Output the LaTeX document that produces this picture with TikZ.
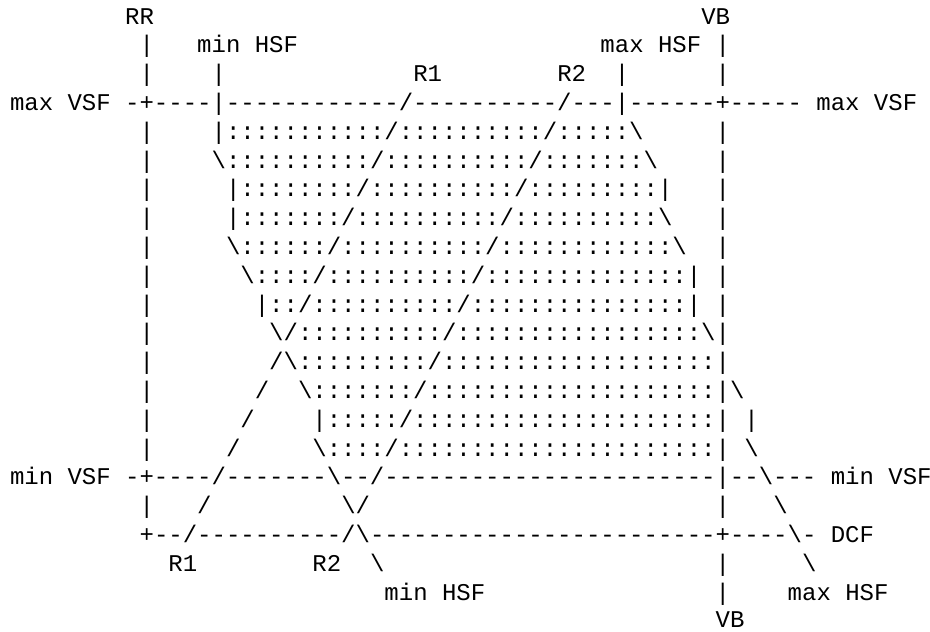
\documentclass[tikz,border=0pt]{standalone}
\usepackage{fontspec}
\setmonofont{Liberation Mono}
\ExplSyntaxOn
\cs_new:Npn \Rp #1#2 { \prg_replicate:nn {#1} {#2} }
\ExplSyntaxOff
\newcommand\bsl{\textbackslash}
\tikzset{ascii/.style={anchor=base west, inner sep=0pt, outer sep=0pt, text=black,
  font=\ttfamily\fontsize{24pt}{28.8pt}\selectfont}}
\begin{document}
\begin{tikzpicture}[x=1pt,y=1pt]
\useasboundingbox (0,0) rectangle (930,-632);
\node[ascii] (l1) at (10,-24.0) {\Rp{8}{~}RR\Rp{38}{~}VB};
\node[ascii] (l2) at (10,-52.8) {\Rp{9}{~}|\Rp{3}{~}min~HSF\Rp{21}{~}max~HSF~|};
\node[ascii] (l3) at (10,-81.6) {\Rp{9}{~}|\Rp{4}{~}|\Rp{13}{~}R1\Rp{8}{~}R2~~|\Rp{6}{~}|};
\node[ascii] (l4) at (10,-110.4) {max~VSF~-+\Rp{4}{-}|\Rp{12}{-}/\Rp{10}{-}/\Rp{3}{-}|\Rp{6}{-}+\Rp{5}{-}~max~VSF};
\node[ascii] (l5) at (10,-139.2) {\Rp{9}{~}|\Rp{4}{~}|\Rp{11}{:}/\Rp{10}{:}/\Rp{5}{:}\bsl\Rp{5}{~}|};
\node[ascii] (l6) at (10,-168.0) {\Rp{9}{~}|\Rp{4}{~}\bsl\Rp{10}{:}/\Rp{10}{:}/\Rp{7}{:}\bsl\Rp{4}{~}|};
\node[ascii] (l7) at (10,-196.8) {\Rp{9}{~}|\Rp{5}{~}|\Rp{8}{:}/\Rp{10}{:}/\Rp{9}{:}|\Rp{3}{~}|};
\node[ascii] (l8) at (10,-225.6) {\Rp{9}{~}|\Rp{5}{~}|\Rp{7}{:}/\Rp{10}{:}/\Rp{10}{:}\bsl\Rp{3}{~}|};
\node[ascii] (l9) at (10,-254.4) {\Rp{9}{~}|\Rp{5}{~}\bsl\Rp{6}{:}/\Rp{10}{:}/\Rp{12}{:}\bsl~~|};
\node[ascii] (l10) at (10,-283.2) {\Rp{9}{~}|\Rp{6}{~}\bsl\Rp{4}{:}/\Rp{10}{:}/\Rp{14}{:}|~|};
\node[ascii] (l11) at (10,-312.0) {\Rp{9}{~}|\Rp{7}{~}|::/\Rp{10}{:}/\Rp{15}{:}|~|};
\node[ascii] (l12) at (10,-340.8) {\Rp{9}{~}|\Rp{8}{~}\bsl/\Rp{10}{:}/\Rp{17}{:}\bsl|};
\node[ascii] (l13) at (10,-369.6) {\Rp{9}{~}|\Rp{8}{~}/\bsl\Rp{9}{:}/\Rp{19}{:}|};
\node[ascii] (l14) at (10,-398.4) {\Rp{9}{~}|\Rp{7}{~}/~~\bsl\Rp{7}{:}/\Rp{20}{:}|\bsl};
\node[ascii] (l15) at (10,-427.2) {\Rp{9}{~}|\Rp{6}{~}/\Rp{4}{~}|\Rp{5}{:}/\Rp{21}{:}|~|};
\node[ascii] (l16) at (10,-456.0) {\Rp{9}{~}|\Rp{5}{~}/\Rp{5}{~}\bsl\Rp{4}{:}/\Rp{22}{:}|~\bsl};
\node[ascii] (l17) at (10,-484.8) {min~VSF~-+\Rp{4}{-}/\Rp{7}{-}\bsl--/\Rp{23}{-}|--\bsl---~min~VSF};
\node[ascii] (l18) at (10,-513.6) {\Rp{9}{~}|\Rp{3}{~}/\Rp{9}{~}\bsl/\Rp{24}{~}|\Rp{3}{~}\bsl};
\node[ascii] (l19) at (10,-542.4) {\Rp{9}{~}+--/\Rp{10}{-}/\bsl\Rp{24}{-}+----\bsl-~DCF};
\node[ascii] (l20) at (10,-571.2) {\Rp{11}{~}R1\Rp{8}{~}R2~~\bsl\Rp{23}{~}|\Rp{5}{~}\bsl};
\node[ascii] (l21) at (10,-600.0) {\Rp{26}{~}min~HSF\Rp{16}{~}|\Rp{4}{~}max~HSF};
\node[ascii] (l22) at (10,-627.8) {\Rp{49}{~}VB};
\end{tikzpicture}
\end{document}
